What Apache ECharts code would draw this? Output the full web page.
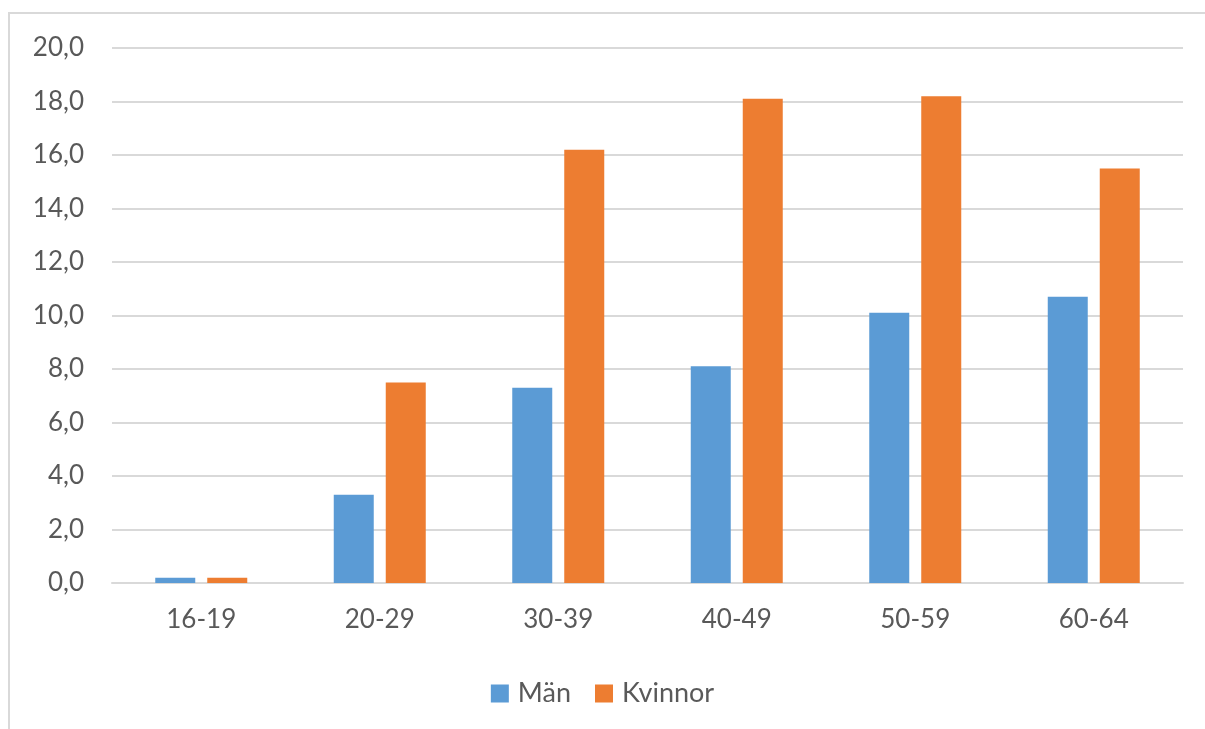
<!DOCTYPE html>
<html>
<head>
<meta charset="utf-8">
<script src="https://cdn.jsdelivr.net/npm/echarts@6/dist/echarts.min.js"></script>
<style>
html,body{margin:0;padding:0;background:#fff;overflow:hidden;width:1205px;height:729px;}
#frame{position:absolute;left:8px;top:12px;width:1197px;height:717px;border-left:2px solid #d9d9d9;border-top:2px solid #d9d9d9;box-sizing:border-box;}
#chart{position:absolute;left:0;top:0;width:1205px;height:729px;}
</style>
</head>
<body>
<div id="frame"></div>
<div id="chart"></div>
<script>
const categories = ['16-19','20-29','30-39','40-49','50-59','60-64'];
const seriesNames = ['Män','Kvinnor'];
const manValues = [0.2, 3.3, 7.3, 8.1, 10.1, 10.7];
const kvinnorValues = [0.2, 7.5, 16.2, 18.1, 18.2, 15.5];
const yMin = 0, yMax = 20, yStep = 2;

const chart = echarts.init(document.getElementById('chart'));
const font = 'Lato, "Open Sans", sans-serif';
chart.setOption({
  animation: false,
  backgroundColor: 'transparent',
  grid: {left: 112, right: 22, top: 48, bottom: 146, containLabel: false},
  legend: {
    data: seriesNames,
    left: 'center',
    top: 675,
    itemWidth: 18,
    itemHeight: 18,
    itemGap: 24,
    icon: 'rect',
    textStyle: {fontFamily: font, fontSize: 27, color: '#595959', padding: [0,0,0,4]}
  },
  xAxis: {
    type: 'category',
    data: categories,
    axisLine: {lineStyle: {color: '#d9d9d9', width: 2}},
    axisTick: {show: false},
    axisLabel: {fontFamily: font, fontSize: 26, color: '#595959', margin: 24}
  },
  yAxis: {
    type: 'value',
    min: yMin, max: yMax, interval: yStep,
    axisLine: {show: false},
    axisTick: {show: false},
    splitLine: {lineStyle: {color: '#d9d9d9', width: 2}},
    axisLabel: {fontFamily: font, fontSize: 26, color: '#595959', margin: 28,
      formatter: v => v.toFixed(1).replace('.', ',')}
  },
  series: [
    {name: seriesNames[0], type: 'bar', data: manValues, barWidth: 40, barGap: '30%',
     itemStyle: {color: '#5B9BD5'}},
    {name: seriesNames[1], type: 'bar', data: kvinnorValues, barWidth: 40,
     itemStyle: {color: '#ED7D31'}}
  ]
});
</script>
</body>
</html>
